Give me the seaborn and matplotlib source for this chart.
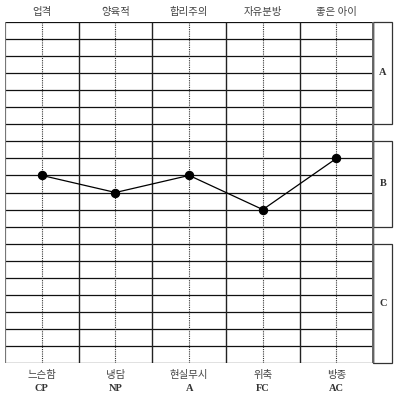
import pandas as pd
import seaborn as sns
import matplotlib.pyplot as plt
from matplotlib.patches import Rectangle

# 점수 (0-20 눈금)
top_labels = ["업격", "양육적", "합리주의", "자유분방", "좋은 아이"]
bottom_labels = ["느슨함", "냉담", "현실무시", "위축", "방종"]
codes = ["CP", "NP", "A", "FC", "AC"]
scores = [11, 10, 11, 9, 12]
zones = ["A", "B", "C"]
zone_ranges = [(14, 20), (8, 13), (0, 7)]

sns.set_style("white")
plt.rcParams["font.family"] = ["Noto Sans CJK KR", "DejaVu Sans"]

df = pd.DataFrame({"pos": [i + 0.5 for i in range(len(scores))], "score": scores})

fig = plt.figure(figsize=(3.94, 3.95), dpi=100)
W, H = 394, 395
ax = fig.add_axes([5 / W, 1 - 363.3 / H, (392.5 - 5) / W, (363.3 - 21.7) / H])
ax.set_xlim(0, (392.5 - 5) / 73.66)
ax.set_ylim(0, 20)
ax.axis("off")

# Raster
ax.hlines(range(0, 21), 0, 5, color="#111111", lw=0.9, zorder=1)
ax.vlines([1, 2, 3, 4, 5], 0, 20, color="#222222", lw=1.0, zorder=1)
ax.vlines([i + 0.5 for i in range(5)], 0, 20, color="#333333", lw=0.8,
          linestyles=(0, (1, 1)), zorder=1)
ax.vlines(0, 0, 20, color="#777777", lw=1.6, zorder=2)
ax.vlines(5, 0, 20, color="#666666", lw=1.4, zorder=2)

# Bereiche A/B/C rechts
for z, (lo, hi) in zip(zones, zone_ranges):
    ax.add_patch(Rectangle((5, lo), 0.26, hi - lo, fill=False, ec="#333333",
                           lw=0.9, clip_on=False))
    ax.text(5.13, (lo + hi) / 2, z, ha="center", va="center", fontsize=7.5,
            family="Liberation Serif", weight="bold", color="#333333")

# Profil
sns.lineplot(data=df, x="pos", y="score", ax=ax, color="black", lw=0.9,
             marker="o", markersize=6, markeredgecolor="black", zorder=5)
ax.set_xlim(0, (392.5 - 5) / 73.66)
ax.set_ylim(0, 20)
ax.axis("off")

for i in range(5):
    ax.text(i + 0.5, 20.55, top_labels[i], ha="center", va="center",
            fontsize=7.5, color="#444444", clip_on=False)
    ax.text(i + 0.5, -0.7, bottom_labels[i], ha="center", va="center",
            fontsize=7.5, color="#444444", clip_on=False)
    ax.text(i + 0.5, -1.5, codes[i], ha="center", va="center", fontsize=7.5,
            family="Liberation Serif", weight="bold", color="#333333",
            clip_on=False)

plt.savefig("out.png", dpi=100)
